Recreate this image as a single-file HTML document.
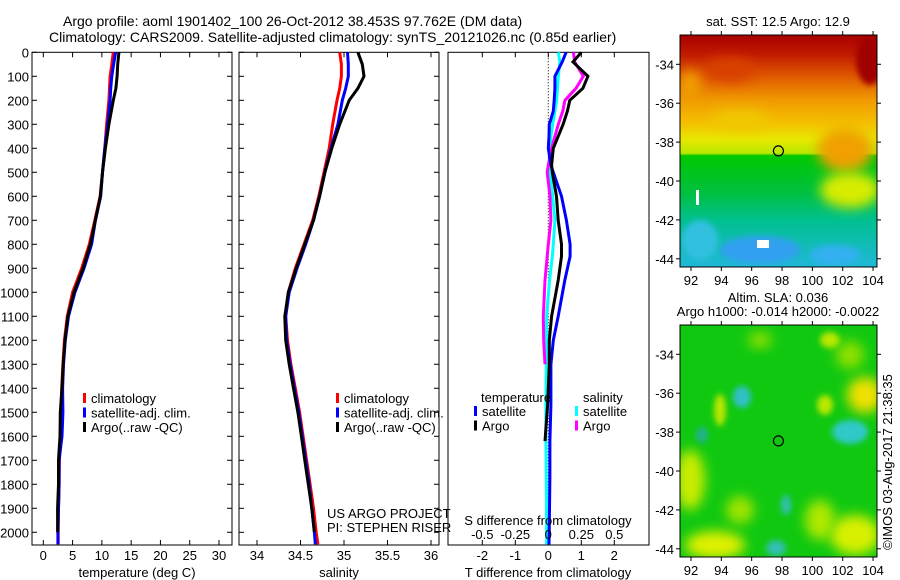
<!DOCTYPE html>
<html><head><meta charset="utf-8"><style>
html,body{margin:0;padding:0;background:#fff}
svg{display:block}
text{font-family:"Liberation Sans",sans-serif;font-size:13px;fill:#000}
</style></head><body>
<svg id="fig" width="900" height="580" viewBox="0 0 900 580">
<defs>
<linearGradient id="sstg" x1="0" y1="0" x2="0" y2="1">
<stop offset="0" stop-color="#a80000"/><stop offset="0.08" stop-color="#c01800"/>
<stop offset="0.18" stop-color="#e05a00"/><stop offset="0.28" stop-color="#f09a00"/>
<stop offset="0.38" stop-color="#f4c000"/><stop offset="0.45" stop-color="#e8e800"/>
<stop offset="0.51" stop-color="#b8e800"/><stop offset="0.52" stop-color="#00c800"/>
<stop offset="0.68" stop-color="#00c040"/><stop offset="0.8" stop-color="#00c090"/>
<stop offset="1" stop-color="#20b8d8"/></linearGradient>
<filter id="bl" x="-50%" y="-50%" width="200%" height="200%"><feGaussianBlur stdDeviation="6"/></filter>
<filter id="bl2" x="-50%" y="-50%" width="200%" height="200%"><feGaussianBlur stdDeviation="3"/></filter>
<clipPath id="c1"><rect x="680" y="35" width="197" height="232"/></clipPath>
<clipPath id="c2"><rect x="680" y="325" width="197" height="232"/></clipPath>
</defs>
<text x="63" y="26" style="font-size:14px">Argo profile: aoml 1901402_100 26-Oct-2012 38.453S 97.762E (DM data)</text>
<text x="49" y="42" style="font-size:14px">Climatology: CARS2009. Satellite-adjusted climatology: synTS_20121026.nc (0.85d earlier)</text>

<g clip-path="url(#c1)">
<rect x="680" y="35" width="197" height="232" fill="url(#sstg)"/>
<ellipse cx="730" cy="70" rx="25" ry="12" fill="#d84000" filter="url(#bl)"/>
<ellipse cx="690" cy="85" rx="10" ry="15" fill="#f0a000" filter="url(#bl)"/>
<ellipse cx="740" cy="120" rx="30" ry="10" fill="#f0c800" filter="url(#bl)"/>
<ellipse cx="845" cy="150" rx="28" ry="22" fill="#f0a000" filter="url(#bl)"/>
<ellipse cx="850" cy="190" rx="30" ry="18" fill="#d8ec00" filter="url(#bl)"/>
<ellipse cx="870" cy="60" rx="14" ry="25" fill="#a00000" filter="url(#bl2)"/>
<ellipse cx="760" cy="250" rx="40" ry="14" fill="#30a0f0" filter="url(#bl2)"/>
<ellipse cx="835" cy="255" rx="25" ry="10" fill="#30b0f0" filter="url(#bl2)"/>
<ellipse cx="700" cy="240" rx="18" ry="20" fill="#30c0e0" filter="url(#bl2)"/>
<rect x="696" y="190" width="3" height="15" fill="#fff"/>
<rect x="757" y="240" width="12" height="8" fill="#fff"/>
</g>
<g clip-path="url(#c2)">
<rect x="680" y="325" width="197" height="232" fill="#10c810"/>
<ellipse cx="690" cy="480" rx="15" ry="30" fill="#c8ec00" filter="url(#bl)"/>
<ellipse cx="715" cy="545" rx="30" ry="14" fill="#e0f000" filter="url(#bl)"/>
<ellipse cx="865" cy="395" rx="18" ry="18" fill="#f0e000" filter="url(#bl)"/>
<ellipse cx="855" cy="535" rx="25" ry="20" fill="#d8f000" filter="url(#bl)"/>
<ellipse cx="820" cy="520" rx="15" ry="20" fill="#b0e800" filter="url(#bl)"/>
<ellipse cx="740" cy="510" rx="14" ry="14" fill="#a0e400" filter="url(#bl)"/>
<ellipse cx="850" cy="355" rx="14" ry="14" fill="#90e000" filter="url(#bl)"/>
<ellipse cx="760" cy="340" rx="12" ry="8" fill="#90e000" filter="url(#bl)"/>
<ellipse cx="720" cy="410" rx="6" ry="16" fill="#b8e800" filter="url(#bl2)"/>
<ellipse cx="825" cy="405" rx="8" ry="10" fill="#b8e800" filter="url(#bl2)"/>
<ellipse cx="830" cy="340" rx="10" ry="8" fill="#b8e800" filter="url(#bl2)"/>
<ellipse cx="742" cy="397" rx="9" ry="11" fill="#30c0c8" filter="url(#bl2)"/>
<ellipse cx="850" cy="432" rx="18" ry="12" fill="#30c8c8" filter="url(#bl2)"/>
<ellipse cx="702" cy="435" rx="6" ry="8" fill="#20b090" filter="url(#bl2)"/>
<ellipse cx="786" cy="505" rx="5" ry="10" fill="#30c0b0" filter="url(#bl2)"/>
<ellipse cx="776" cy="548" rx="10" ry="8" fill="#30c0b0" filter="url(#bl2)"/>
</g>
<g id="plots"></g>
<text transform="translate(892,462) rotate(-90)" text-anchor="middle">©IMOS 03-Aug-2017 21:38:35</text>
</svg>
<script>
const depths=[0,50,100,150,200,300,400,500,600,700,800,900,1000,1100,1200,1300,1400,1500,1600,1700,1800,1900,2000,2050];
const tClim=[11.95,11.7,11.4,11.3,11.2,10.8,10.5,10.1,9.7,8.8,7.85,6.55,5.0,4.1,3.6,3.35,3.15,3.0,2.9,2.75,2.7,2.6,2.55,2.55];
const tSat=[12.35,12.0,11.7,11.5,11.4,11.0,10.5,10.1,9.8,8.9,8.25,6.95,5.4,4.3,3.75,3.45,3.3,3.35,3.2,2.7,2.7,2.6,2.5,2.5];
const tArgo=[12.9,12.7,12.6,12.4,11.95,11.2,10.6,10.1,9.75,8.9,8.05,6.8,5.25,4.2,3.7,3.4,3.2,2.9,2.85,2.6,2.6,2.45,2.45,null];
const sClim=[34.95,34.97,34.97,34.95,34.92,34.87,34.83,34.77,34.71,34.64,34.54,34.44,34.36,34.33,34.35,34.39,34.44,34.49,34.53,34.57,34.61,34.65,34.68,34.70];
const sSat=[35.04,35.05,35.05,35.02,34.98,34.93,34.85,34.78,34.72,34.65,34.56,34.46,34.37,34.33,34.34,34.38,34.43,34.48,34.52,34.56,34.60,34.63,34.66,34.67];
const sArgo=[35.16,35.21,35.23,35.16,35.06,34.95,34.86,34.78,34.72,34.65,34.55,34.45,34.36,34.32,34.33,34.37,34.42,34.47,34.51,34.55,34.59,34.63,34.66,null];
const dDepths=[0,40,100,150,200,245,300,350,400,470,500,600,700,800,850,950,1100,1200,1300,1470,1620,1770,1970,2050];
const dTSat=[0.54,0.42,0.2,0.2,0.18,0.15,0.03,0.02,0,0.08,0.15,0.4,0.55,0.66,0.66,0.5,0.3,0.15,0.08,0.08,0.05,0.05,0.03,0.02];
const dTArgo=[1.0,0.75,1.2,1.05,0.65,0.58,0.45,0.3,0.15,0.1,0.12,0.25,0.3,0.4,0.4,0.3,0.1,0.03,0.03,-0.02,-0.1,null,null,null];
const dSSat=[0.076,0.088,0.076,0.07,0.063,0.05,0.033,0.02,0.013,0.013,0.013,0.033,0.05,0.038,0.03,0.01,-0.013,-0.013,-0.015,-0.018,-0.018,-0.015,-0.013,-0.013];
const dSArgo=[0.19,0.2,0.265,0.21,0.126,0.11,0.076,0.05,0.025,0.0,-0.008,0.013,0.02,0,-0.008,-0.025,-0.038,-0.035,-0.025,null,null,null,null,null];
const tTicks=[0,5,10,15,20,25,30];
const sTicks=[34,34.5,35,35.5,36];
const dTTicks=[-2,-1,0,1,2];
const dSTicks=[-0.5,-0.25,0,0.25,0.5];
const depthTicks=[0,100,200,300,400,500,600,700,800,900,1000,1100,1200,1300,1400,1500,1600,1700,1800,1900,2000];
const NS='http://www.w3.org/2000/svg';
const root=document.getElementById('plots');
function mk(tag,a,parent){const e=document.createElementNS(NS,tag);for(const k in a)e.setAttribute(k,a[k]);(parent||root).appendChild(e);return e;}
const Y0=52.3, Y1=545, yS=0.24;
const yD=d=>Y0+d*yS;
function panel(x0,x1,vmin,vmax){return v=>x0+(v-vmin)/(vmax-vmin)*(x1-x0);}
const xT=panel(43.3,219,0,30), xS=panel(257,431,34,36), xDT=panel(548.3,614.3,0,2), xDS=panel(548.3,614.3,0,0.5);
function frame(x0,x1,name){const r=mk('rect',{x:x0,y:Y0,width:x1-x0,height:Y1-Y0,fill:'none',stroke:'#000','stroke-width':1});
}
function line(xf,vals,dep,color,name){let pts=[];for(let i=0;i<vals.length;i++){if(vals[i]===null)continue;pts.push(xf(vals[i]).toFixed(1)+','+yD(dep[i]).toFixed(1));}
const p=mk('polyline',{points:pts.join(' '),fill:'none',stroke:color,'stroke-width':3});
}
function txt(x,y,s,anchor,name){const t=mk('text',{x:x,y:y,'text-anchor':anchor||'start'});t.textContent=s;
return t;}
function xticks(xf,ticks,x0,x1,labelY,top,bottom,name){ticks.forEach(v=>{const x=xf(v);
if(top)mk('line',{x1:x,y1:Y0,x2:x,y2:Y0+5,stroke:'#000'});
if(bottom)mk('line',{x1:x,y1:Y1,x2:x,y2:Y1-5,stroke:'#000'});
if(labelY)txt(x,labelY,String(v),'middle',name);});}
function yticks(x0,x1,labels){depthTicks.forEach(d=>{const y=yD(d);
mk('line',{x1:x0,y1:y,x2:x0+5,y2:y,stroke:'#000'});mk('line',{x1:x1,y1:y,x2:x1-5,y2:y,stroke:'#000'});
if(labels)txt(x0-3,y+5,String(d),'end','depth-tick-label');});}
frame(32,232,'temperature-panel');yticks(32,232,true);xticks(xT,tTicks,32,232,560,true,true,'temperature-tick-label');
line(xT,tClim,depths,'#ff0000','temp-climatology-line');line(xT,tSat,depths,'#0000ff','temp-satellite-line');line(xT,tArgo,depths,'#000','temp-argo-line');
txt(137,577,'temperature (deg C)','middle','temperature-axis-title');
function legend(x,y,items,nm){items.forEach((it,i)=>{const r=mk('rect',{x:x,y:y+i*14.5-10,width:3,height:10,fill:it[0]});
txt(x+8,y+i*14.5,it[1],'start',nm+'-label');});}
legend(83,403,[['#ff0000','climatology'],['#0000ff','satellite-adj. clim.'],['#000','Argo(..raw -QC)']],'temperature-legend');
frame(239,439,'salinity-panel');yticks(239,439,false);xticks(xS,sTicks,239,439,560,true,true,'salinity-tick-label');
line(xS,sClim,depths,'#ff0000','sal-climatology-line');line(xS,sSat,depths,'#0000ff','sal-satellite-line');line(xS,sArgo,depths,'#000','sal-argo-line');
txt(339,577,'salinity','middle','salinity-axis-title');
legend(336,403,[['#ff0000','climatology'],['#0000ff','satellite-adj. clim.'],['#000','Argo(..raw -QC)']],'salinity-legend');
txt(327,518,'US ARGO PROJECT','start','project-credit');txt(327,532,'PI: STEPHEN RISER','start','pi-credit');
frame(448,649,'difference-panel');
xticks(xDT,dTTicks,448,649,560,true,true,'t-diff-tick-label');
mk('line',{x1:xDT(0),y1:Y0,x2:xDT(0),y2:Y1,stroke:'#000','stroke-dasharray':'1,2'});
line(xDS,dSSat,dDepths,'#00ffff','sdiff-satellite-line');line(xDS,dSArgo,dDepths,'#ff00ff','sdiff-argo-line');
line(xDT,dTSat,dDepths,'#0000ff','tdiff-satellite-line');line(xDT,dTArgo,dDepths,'#000','tdiff-argo-line');
dSTicks.forEach(v=>txt(xDS(v),539,String(v),'middle','s-diff-tick-label'));
txt(548,525,'S difference from climatology','middle','s-diff-axis-title');
txt(548,577,'T difference from climatology','middle','t-diff-axis-title');
txt(481,402,'temperature','start','temp-legend-heading');txt(583,402,'salinity','start','sal-legend-heading');
legend(474,416,[['#0000ff','satellite'],['#000','Argo']],'tdiff-legend');
legend(575,416,[['#00ffff','satellite'],['#ff00ff','Argo']],'sdiff-legend');
const lonTicks=[92,94,96,98,100,102,104];const latTicks=[-34,-36,-38,-40,-42,-44];
const xLon=v=>691+(v-92)*15.17;
function map(top,bot,y34,labelY,nm){const r=mk('rect',{x:680,y:top,width:197,height:bot-top,fill:'none',stroke:'#000'});

lonTicks.forEach(v=>{const x=xLon(v);mk('line',{x1:x,y1:top,x2:x,y2:top-4,stroke:'#000'});mk('line',{x1:x,y1:bot,x2:x,y2:bot+4,stroke:'#000'});txt(x,labelY,String(v),'middle',nm+'-lon-label');});
latTicks.forEach((v,i)=>{const y=y34+i*38.9;mk('line',{x1:680,y1:y,x2:676,y2:y,stroke:'#000'});mk('line',{x1:877,y1:y,x2:881,y2:y,stroke:'#000'});txt(674,y+5,String(v),'end',nm+'-lat-label');});
const c=mk('circle',{cx:xLon(97.762),cy:y34+(38.453-34)/2*38.9,r:5,fill:'none',stroke:'#000','stroke-width':1.2});
}
map(35,267,64.3,285,'sst-map');map(325,557,354.3,575,'sla-map');
txt(778,26,'sat. SST: 12.5 Argo: 12.9','middle','sst-map-title');
txt(778,302,'Altim. SLA: 0.036','middle','sla-map-title');
txt(778,316,'Argo h1000: -0.014 h2000: -0.0022','middle','sla-map-subtitle');
</script>
</body></html>
